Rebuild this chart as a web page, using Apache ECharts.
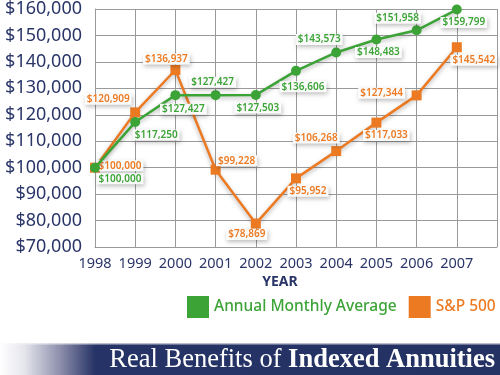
<!DOCTYPE html>
<html><head><meta charset="utf-8">
<script src="https://cdn.jsdelivr.net/npm/echarts@6/dist/echarts.min.js"></script>
<style>html,body{margin:0;padding:0;background:#fff}#c{width:500px;height:375px}</style>
</head><body><div id="c"></div>
<script>
const years = [1998, 1999, 2000, 2001, 2002, 2003, 2004, 2005, 2006, 2007];
const annualMonthlyAverage = [100000, 117250, 127427, 127427, 127503, 136606, 143573, 148483, 151958, 159799];
const sp500 = [100000, 120909, 136937, 99228, 78869, 95952, 106268, 117033, 127344, 145542];
const seriesNames = ['Annual Monthly Average', 'S&P 500'];

// label offsets (style only)
const greenLabelOffsets = [[25,11],[21,13],[8,14],[-3,-13],[2,13],[7,16],[-17,-13],[2,13],[-19,-12],[7,13]];
const orangeLabelOffsets = [[25,-2],[-27,-13],[-9,-11],[21,-9],[-9,11],[12,13],[-20,-13],[10,13],[-35,-2],[17,13]];

const GREEN = '#3ca437';
const ORANGE = '#ec7a22';
const NAVY = '#2a3568';

function fmt(v){ return '$' + v.toLocaleString('en-US'); }

function buildData(vals, offs, color){
  return vals.map((v,i)=>({
    value:[years[i], v],
    label:{
      show:true, position:'inside', offset:offs[i],
      formatter: fmt(v), color: color,
      fontFamily:'Noto Sans', fontSize:10, fontWeight:600,
      backgroundColor:'rgba(255,255,255,0.92)', padding:[1,2,0,2],
      shadowColor:'rgba(0,0,0,0.28)', shadowBlur:4, shadowOffsetX:1, shadowOffsetY:2
    }
  }));
}

const chart = echarts.init(document.getElementById('c'));
chart.setOption({
  animation:false,
  grid:{left:95, top:9, width:404, height:238},
  xAxis:{
    type:'value', min:1998, max:2008, interval:1,
    axisLine:{show:true, lineStyle:{color:'#9a9a9a', width:1}},
    axisTick:{show:false},
    splitLine:{show:true, lineStyle:{color:'#9a9a9a', width:1}},
    axisLabel:{color:NAVY, fontFamily:'Noto Sans', fontSize:14.5, margin:9,
      formatter:v=> v===2008 ? '' : String(v)}
  },
  yAxis:{
    type:'value', min:70000, max:160000, interval:10000,
    axisLine:{show:true, lineStyle:{color:'#9a9a9a', width:1}},
    axisTick:{show:false},
    splitLine:{show:true, lineStyle:{color:'#9a9a9a', width:1}},
    axisLabel:{color:NAVY, fontFamily:'Noto Sans', fontSize:18, margin:13, formatter:fmt}
  },
  legend:{
    left:187, top:296, width:313, padding:0, itemWidth:22, itemHeight:22, itemGap:12,
    icon:'rect',
    data:[
      {name:seriesNames[0], textStyle:{color:GREEN}},
      {name:seriesNames[1], textStyle:{color:ORANGE}}
    ],
    textStyle:{fontFamily:'Noto Sans', fontSize:15.5, fontWeight:500}
  },
  series:[
    {
      name:seriesNames[0], type:'line', data:buildData(annualMonthlyAverage, greenLabelOffsets, GREEN),
      symbol:'circle', symbolSize:10,
      itemStyle:{color:GREEN},
      lineStyle:{color:GREEN, width:2.5, shadowColor:'rgba(0,0,0,0.3)', shadowBlur:4, shadowOffsetY:2},
      z:3
    },
    {
      name:seriesNames[1], type:'line', data:buildData(sp500, orangeLabelOffsets, ORANGE),
      symbol:'rect', symbolSize:10,
      itemStyle:{color:ORANGE},
      lineStyle:{color:ORANGE, width:2.5, shadowColor:'rgba(0,0,0,0.3)', shadowBlur:4, shadowOffsetY:2},
      z:2
    }
  ],
  graphic:[
    {type:'text', x:280, y:282, style:{text:'YEAR', fill:NAVY, font:'bold 14px "Noto Sans"', align:'center', verticalAlign:'middle'}},
    {type:'rect', shape:{x:0,y:343,width:500,height:32},
      style:{fill:new echarts.graphic.LinearGradient(0,0,1,0,[
        {offset:0,color:'#ffffff'},{offset:0.05,color:'#e4e4ec'},{offset:0.12,color:'#8d8fac'},{offset:0.19,color:'#263366'},{offset:1,color:'#243163'}])}},
    {type:'rect', shape:{x:0,y:343,width:500,height:1.5},
      style:{fill:new echarts.graphic.LinearGradient(0,0,1,0,[
        {offset:0,color:'#ffffff'},{offset:0.2,color:'#b9bccd'},{offset:1,color:'#b9bccd'}])}},
    {type:'text', x:495, y:360, style:{
      text:'{r|Real Benefits of }{b|Indexed Annuities}',
      align:'right', verticalAlign:'middle',
      rich:{
        r:{fill:'#ffffff', color:'#ffffff', fontFamily:'Liberation Serif', fontSize:26.5},
        b:{fill:'#ffffff', color:'#ffffff', fontFamily:'Liberation Serif', fontSize:26.5, fontWeight:'bold'}
      }
    }}
  ]
});
</script></body></html>
